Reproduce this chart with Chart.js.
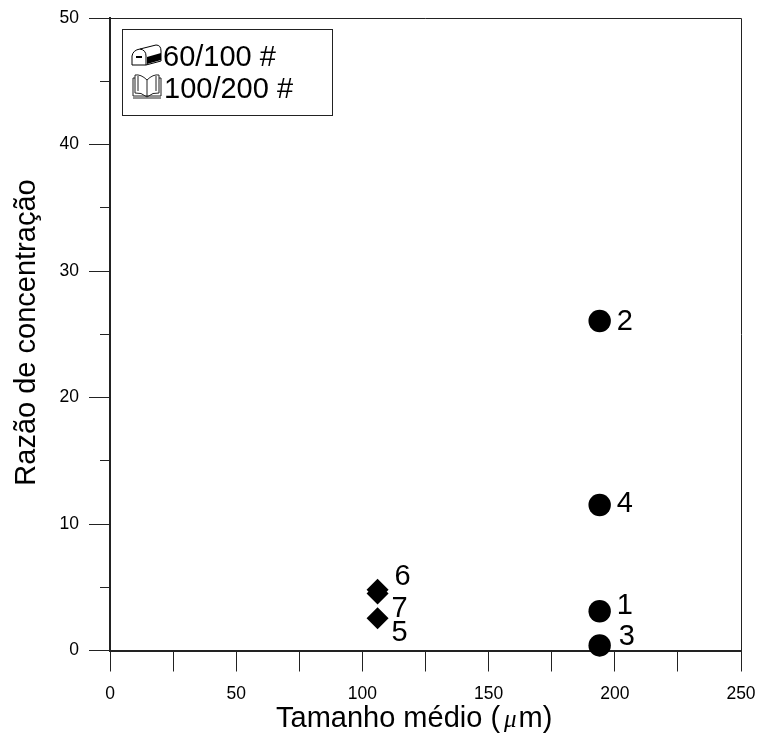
<!DOCTYPE html>
<html>
<head>
<meta charset="utf-8">
<style>
html, body { margin: 0; padding: 0; background: #fff; }
canvas { display: block; }
</style>
<script src="https://cdn.jsdelivr.net/npm/chart.js@4"></script>
</head>
<body>
<canvas id="myChart" width="758" height="735"></canvas>
<script>
// values
const sizes60 = [194, 194, 194, 194];
const ratios60 = [3.1, 26.05, 0.4, 11.5];
const labels60 = ["1", "2", "3", "4"];
const sizes100 = [106, 106, 106];
const ratios100 = [2.55, 4.8, 4.5];
const labels100 = ["5", "6", "7"];
const legendNames = ["60/100 #", "100/200 #"];
const xTitleParts = ["Tamanho médio (", "μ", "m)"];
const yTitle = "Razão de concentração";

// where each number sits relative to its point
const offsets60 = [[17, 3], [17, 9], [19, 0], [17, 7]];
const offsets100 = [[14, 23], [17, -5], [14, 23]];

const fontName = '"Liberation Sans", Arial, sans-serif';

function drawMailbox(ctx, x, y) {
    ctx.lineWidth = 1;
    ctx.strokeStyle = "#000";
    ctx.fillStyle = "#000";
    ctx.beginPath();
    ctx.moveTo(x, y + 20);
    ctx.lineTo(x, y + 11);
    ctx.quadraticCurveTo(x + 1, y + 5, x + 8, y + 4);
    ctx.lineTo(x + 24, y);
    ctx.quadraticCurveTo(x + 29, y, x + 29, y + 6);
    ctx.lineTo(x + 29, y + 16);
    ctx.lineTo(x + 14, y + 20);
    ctx.closePath();
    ctx.moveTo(x + 8, y + 4);
    ctx.quadraticCurveTo(x + 14, y + 5, x + 14, y + 11);
    ctx.lineTo(x + 14, y + 20);
    ctx.stroke();
    ctx.beginPath();
    ctx.moveTo(x + 15, y + 12);
    ctx.lineTo(x + 29, y + 8);
    ctx.lineTo(x + 29, y + 15);
    ctx.lineTo(x + 15, y + 19);
    ctx.closePath();
    ctx.fill();
    ctx.fillRect(x + 4, y + 11, 6, 2);
}

function drawBook(ctx, x, y) {
    ctx.lineWidth = 1;
    ctx.strokeStyle = "#222";
    ctx.beginPath();
    ctx.moveTo(x + 15, y + 6);
    ctx.quadraticCurveTo(x + 9, y, x + 3, y + 1);
    ctx.lineTo(x + 3, y + 19);
    ctx.quadraticCurveTo(x + 9, y + 18, x + 15, y + 23);
    ctx.quadraticCurveTo(x + 21, y + 18, x + 27, y + 19);
    ctx.lineTo(x + 27, y + 1);
    ctx.quadraticCurveTo(x + 21, y, x + 15, y + 6);
    ctx.lineTo(x + 15, y + 23);
    ctx.moveTo(x + 6, y + 2);
    ctx.lineTo(x + 6, y + 17);
    ctx.moveTo(x + 24, y + 2);
    ctx.lineTo(x + 24, y + 17);
    ctx.moveTo(x + 3, y + 4);
    ctx.lineTo(x + 1, y + 4);
    ctx.lineTo(x + 1, y + 22);
    ctx.lineTo(x + 29, y + 22);
    ctx.lineTo(x + 29, y + 4);
    ctx.lineTo(x + 27, y + 4);
    ctx.moveTo(x + 1, y + 24);
    ctx.lineTo(x + 29, y + 24);
    ctx.stroke();
}

const extras = {
    id: "extras",
    afterDraw(chart) {
        const ctx = chart.ctx;
        const area = chart.chartArea;
        ctx.save();

        // top and right side of the frame
        ctx.strokeStyle = "#222";
        ctx.lineWidth = 1;
        ctx.beginPath();
        ctx.moveTo(area.left, Math.round(area.top) + 0.5);
        ctx.lineTo(Math.round(area.right) + 0.5, Math.round(area.top) + 0.5);
        ctx.lineTo(Math.round(area.right) + 0.5, area.bottom);
        ctx.stroke();

        // number beside each point
        ctx.font = "29px " + fontName;
        ctx.fillStyle = "#000";
        ctx.textAlign = "left";
        ctx.textBaseline = "alphabetic";
        const sets = [[labels60, offsets60], [labels100, offsets100]];
        sets.forEach(function (set, d) {
            chart.getDatasetMeta(d).data.forEach(function (pt, i) {
                ctx.fillText(set[0][i], pt.x + set[1][i][0], pt.y + set[1][i][1]);
            });
        });

        // legend box
        ctx.strokeRect(122.5, 29.5, 210, 86);
        drawMailbox(ctx, 132, 45);
        drawBook(ctx, 132, 74);
        ctx.fillStyle = "#000";
        ctx.fillText(legendNames[0], 163, 66);
        ctx.fillText(legendNames[1], 164, 98);

        // axis titles, the mu is smaller like in the original
        let x = 276;
        ctx.fillText(xTitleParts[0], x, 727);
        x += ctx.measureText(xTitleParts[0]).width + 4;
        ctx.font = "italic 25px 'Liberation Serif', serif";
        ctx.fillText(xTitleParts[1], x, 727);
        x += ctx.measureText(xTitleParts[1]).width + 2;
        ctx.font = "29px " + fontName;
        ctx.fillText(xTitleParts[2], x, 727);

        ctx.translate(35, 332.5);
        ctx.rotate(-Math.PI / 2);
        ctx.textAlign = "center";
        ctx.fillText(yTitle, 0, 0);
        ctx.restore();
    }
};

new Chart("myChart", {
    type: "scatter",
    data: {
        datasets: [{
            label: legendNames[0],
            data: sizes60.map(function (v, i) { return { x: v, y: ratios60[i] }; }),
            pointStyle: "circle",
            pointRadius: 11.2,
            backgroundColor: "#000",
            borderColor: "#000",
            borderWidth: 0,
            clip: false
        }, {
            label: legendNames[1],
            data: sizes100.map(function (v, i) { return { x: v, y: ratios100[i] }; }),
            pointStyle: "rectRot",
            pointRadius: 11,
            backgroundColor: "#000",
            borderColor: "#000",
            borderWidth: 0,
            clip: false
        }]
    },
    options: {
        responsive: false,
        animation: false,
        layout: { padding: { top: 18, right: 17, left: 0, bottom: 0 } },
        plugins: {
            legend: { display: false },
            title: { display: false },
            tooltip: { enabled: false }
        },
        scales: {
            x: {
                type: "linear",
                min: 0,
                max: 250,
                afterFit: function (scale) {
                    scale.height = 84.5;
                    scale.paddingLeft = 0;
                    scale.paddingRight = 0;
                },
                border: { color: "#222", width: 2 },
                grid: { drawOnChartArea: false, tickLength: 21, tickColor: "#222", tickWidth: 1 },
                ticks: {
                    stepSize: 25,
                    autoSkip: false,
                    maxRotation: 0,
                    padding: 12,
                    color: "#000",
                    font: { family: fontName, size: 17.5 },
                    callback: function (v) { return v % 50 === 0 ? v : ""; }
                }
            },
            y: {
                type: "linear",
                min: 0,
                max: 50,
                afterFit: function (scale) {
                    scale.width = 110;
                    scale.paddingTop = 0;
                    scale.paddingBottom = 0;
                },
                border: { color: "#222", width: 2 },
                grid: {
                    drawOnChartArea: false,
                    tickLength: 21,
                    tickColor: "#222",
                    tickWidth: 1,
                    // minor ticks only show the inner half
                    tickBorderDash: function (c) { return c.index % 2 ? [0, 11, 10, 1000] : []; }
                },
                ticks: {
                    stepSize: 5,
                    autoSkip: false,
                    padding: 10,
                    color: "#000",
                    font: { family: fontName, size: 17.5 },
                    callback: function (v) { return v % 10 === 0 ? v : ""; }
                }
            }
        }
    },
    plugins: [extras]
});
</script>
</body>
</html>
